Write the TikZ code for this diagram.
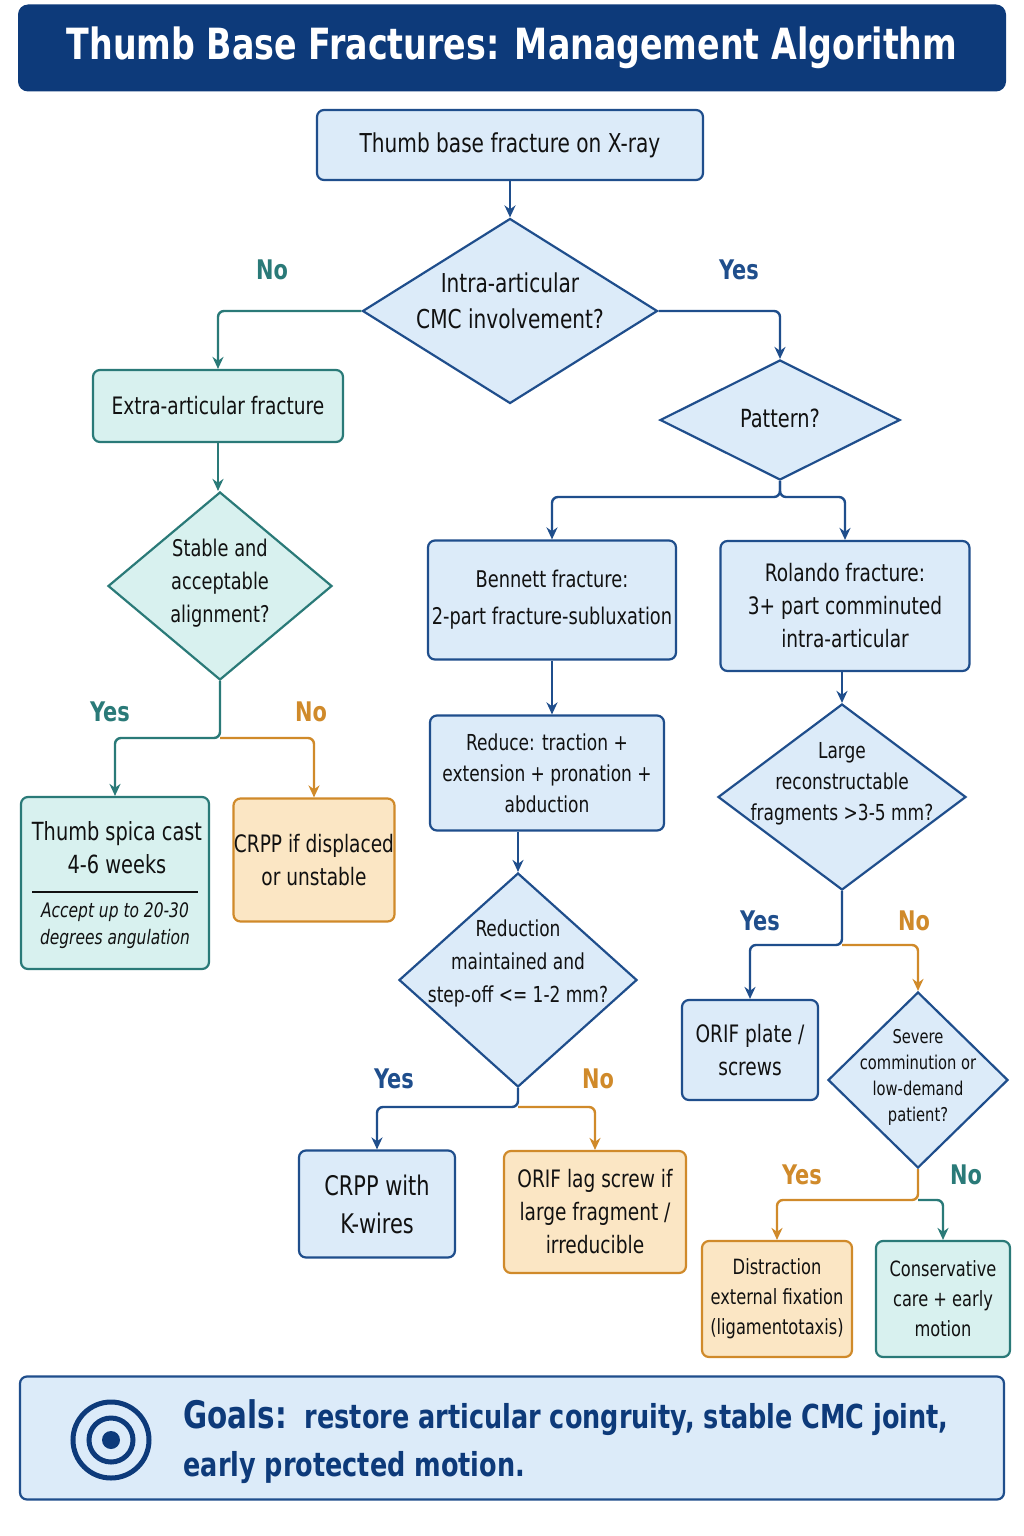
\documentclass[tikz,border=0pt]{standalone}
\usepackage{fontspec}
\setmainfont{DejaVu Sans Condensed}
\newfontfamily\narrow{DejaVu Sans Condensed}[FakeStretch=0.86]
\usetikzlibrary{shapes.geometric,arrows.meta}
\definecolor{navy}{HTML}{0D3A7A}
\definecolor{bfill}{HTML}{DCEBF9}
\definecolor{bline}{HTML}{1F4E8C}
\definecolor{tfill}{HTML}{D8F1EF}
\definecolor{tline}{HTML}{2A7A78}
\definecolor{ofill}{HTML}{FBE6C4}
\definecolor{oline}{HTML}{D08A2A}
\definecolor{txt}{HTML}{111111}
\begin{document}
\begin{tikzpicture}[x=1pt,y=-1pt,
 base/.style={draw,line width=2.2pt,rounded corners=7pt,align=center,text=txt,font=\narrow\fontsize{24}{33}\selectfont,inner sep=0pt},
 bbox/.style={base,fill=bfill,draw=bline},
 tbox/.style={base,fill=tfill,draw=tline},
 obox/.style={base,fill=ofill,draw=oline},
 dia/.style={diamond,draw,line width=2.2pt,inner sep=0pt,fill=bfill,draw=bline},
 dt/.style={align=center,text=txt,font=\narrow\fontsize{23}{33}\selectfont,inner sep=0pt},
 ar/.style={line width=2.4pt,rounded corners=6pt,-{Stealth[length=12pt,width=11pt]}},
 bl/.style={ar,draw=bline}, tl/.style={ar,draw=tline}, ol/.style={ar,draw=oline},
 lab/.style={font=\narrow\bfseries\fontsize{27}{30}\selectfont}]
\useasboundingbox (0,0) rectangle (1024,1536);
\fill[white] (0,0) rectangle (1024,1536);
% title
\node[fill=navy,rounded corners=10pt,minimum width=988pt,minimum height=87pt,text=white,font=\narrow\bfseries\fontsize{43}{46}\selectfont] (title) at (512,48) {Thumb Base Fractures: Management Algorithm};
% nodes
\node[bbox,minimum width=386pt,minimum height=70pt,font=\narrow\fontsize{26}{33}\selectfont] (start) at (510,145) {Thumb base fracture on X-ray};
\node[dia,minimum width=295pt,minimum height=185pt] (d1) at (510,311) {};
\node[dt,font=\narrow\fontsize{26}{36}\selectfont] (d1t) at (510,301) {Intra-articular\\CMC involvement?};
\node[tbox,minimum width=250pt,minimum height=72pt] (extra) at (218,406) {Extra-articular fracture};
\node[dia,fill=tfill,draw=tline,minimum width=224pt,minimum height=188pt] (d2) at (220,586) {};
\node[dt] (d2t) at (220,583) {Stable and\\acceptable\\alignment?};
\node[dia,minimum width=240pt,minimum height=120pt] (pat) at (780,420) {};
\node[dt,font=\narrow\fontsize{25}{33}\selectfont] (patt) at (780,418) {Pattern?};
\node[bbox,minimum width=248pt,minimum height=119pt,font=\narrow\fontsize{23}{33}\selectfont] (ben) at (552,600) {Bennett fracture:\\[4pt]2-part fracture-subluxation};
\node[bbox,minimum width=249pt,minimum height=130pt] (rol) at (845,606) {Rolando fracture:\\3+ part comminuted\\intra-articular};
\node[bbox,minimum width=234pt,minimum height=115pt,font=\narrow\fontsize{22}{31}\selectfont] (red) at (547,773) {Reduce: traction +\\extension + pronation +\\abduction};
\node[dia,minimum width=238pt,minimum height=214pt] (d3) at (518,980) {};
\node[dt,font=\narrow\fontsize{22}{33}\selectfont] (d3t) at (518,963) {Reduction\\maintained and\\step-off <= 1-2 mm?};
\node[dia,minimum width=248pt,minimum height=186pt] (d4) at (842,797) {};
\node[dt,font=\narrow\fontsize{22}{31}\selectfont] (d4t) at (842,784) {Large\\reconstructable\\fragments >3-5 mm?};
\node[tbox,minimum width=188pt,minimum height=172pt] (spica) at (115,883) {};
\node[text=txt,align=center,font=\narrow\fontsize{25}{33}\selectfont] (spt) at (117,848) {Thumb spica cast\\4-6 weeks};
\node[text=txt,align=center,font=\narrow\itshape\fontsize{20}{27}\selectfont] (spb) at (115,926) {Accept up to 20-30\\degrees angulation};
\draw[line width=1.6pt,txt] (32,892) -- (198,892);
\node[obox,minimum width=161pt,minimum height=123pt] (crpp1) at (314,860) {CRPP if displaced\\or unstable};
\node[bbox,minimum width=136pt,minimum height=100pt] (orifp) at (750,1050) {ORIF plate /\\screws};
\node[dia,minimum width=180pt,minimum height=176pt] (d5) at (918,1080) {};
\node[dt,font=\narrow\fontsize{19}{26}\selectfont] (d5t) at (918,1077) {Severe\\comminution or\\low-demand\\patient?};
\node[bbox,minimum width=156pt,minimum height=107pt,font=\narrow\fontsize{27}{38}\selectfont] (crppk) at (377,1204) {CRPP with\\K-wires};
\node[obox,minimum width=182pt,minimum height=122pt] (lag) at (595,1212) {ORIF lag screw if\\large fragment /\\irreducible};
\node[obox,minimum width=150pt,minimum height=116pt,font=\narrow\fontsize{21}{30}\selectfont] (dist) at (777,1299) {Distraction\\external fixation\\(ligamentotaxis)};
\node[tbox,minimum width=134pt,minimum height=116pt,font=\narrow\fontsize{21}{30}\selectfont] (cons) at (943,1299) {Conservative\\care + early\\motion};
% goals
\node[bbox,minimum width=984pt,minimum height=123pt] (goals) at (512,1438) {};
\draw[navy,line width=5pt] (111,1440) circle (38) (111,1440) circle (22);
\fill[navy] (111,1440) circle (9);
\node[anchor=west,align=left,text=navy,font=\narrow\bfseries\fontsize{33}{48}\selectfont] (gt) at (180,1442) {{\fontsize{38}{48}\selectfont Goals:}\ \ restore articular congruity, stable CMC joint,\\early protected motion.};
% connectors
\draw[bl] (start) -- (d1);
\draw[tl] (d1.west) -| (extra.north);
\draw[bl] (d1.east) -| (pat.north);
\draw[tl] (extra) -- (extra |- d2.north);
\coordinate (j1) at (780,497);
\draw[bl] (pat.south) -- (j1) -| (ben.north);
\draw[bl] (pat.south) -- (j1) -| (rol.north);
\draw[bl] (ben.south) -- (ben.south |- red.north);
\draw[bl] (red.south -| d3.north) -- (d3.north);
\draw[bl] (rol.south -| d4.north) -- (d4.north);
\coordinate (j2) at (220,738);
\draw[tl] (d2.south) -- (j2) -| (spica.north);
\draw[ol] (j2) -| (crpp1.north);
\coordinate (j3) at (518,1107);
\draw[bl] (d3.south) -- (j3) -| (crppk.north);
\draw[ol] (j3) -| (lag.north);
\coordinate (j4) at (842,945);
\draw[bl] (d4.south) -- (j4) -| (orifp.north);
\draw[ol] (j4) -| (d5.north);
\coordinate (j5) at (918,1200);
\draw[ol] (d5.south) -- (j5) -| (dist.north);
\draw[tl] (j5) -| (cons.north);
% labels
\node[lab,text=tline] (l1) at (272,270) {No};
\node[lab,text=bline] (l2) at (739,270) {Yes};
\node[lab,text=tline] (l3) at (110,712) {Yes};
\node[lab,text=oline] (l4) at (311,712) {No};
\node[lab,text=bline] (l5) at (394,1079) {Yes};
\node[lab,text=oline] (l6) at (598,1079) {No};
\node[lab,text=bline] (l7) at (760,921) {Yes};
\node[lab,text=oline] (l8) at (914,921) {No};
\node[lab,text=oline] (l9) at (802,1175) {Yes};
\node[lab,text=tline] (l10) at (966,1175) {No};
\end{tikzpicture}
\end{document}
